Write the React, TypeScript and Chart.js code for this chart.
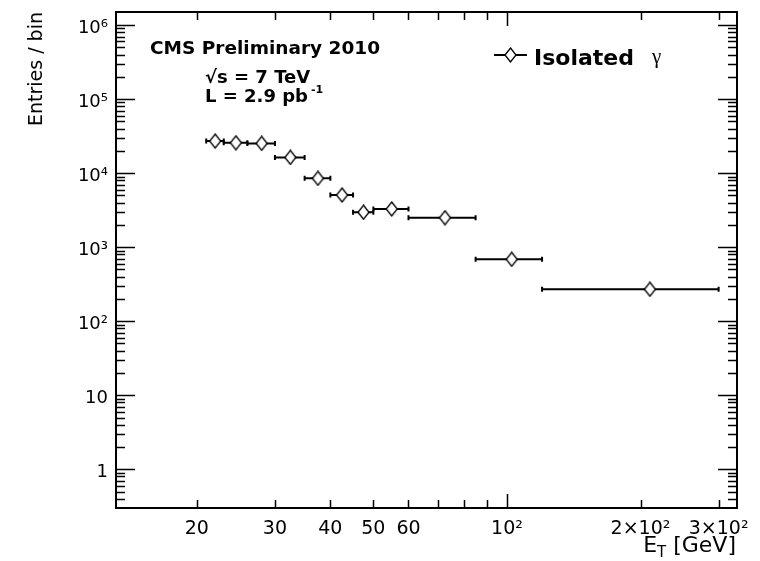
import React, { useEffect, useRef } from "react";
import { Chart, registerables } from "chart.js";

Chart.register(...registerables);

// ---- data ----
const binLow = [21, 23, 26, 30, 35, 40, 45, 50, 60, 85, 120];
const binHigh = [23, 26, 30, 35, 40, 45, 50, 60, 85, 120, 300];
const binCenters = [22, 24.5, 28, 32.5, 37.5, 42.5, 47.5, 55, 72.5, 102.5, 210];
const entries = [27100, 25700, 25200, 16300, 8500, 5060, 2960, 3280, 2500, 685, 270];

const xTickValues = [20, 30, 40, 50, 60, 100, 200, 300];
const xTickLabels = ["20", "30", "40", "50", "60", "10²", "2×10²", "3×10²"];
const xMinorTicks = [20, 30, 40, 50, 60, 70, 80, 90, 200, 300];
const xMajorTicks = [100];
const yTickValues = [1, 10, 100, 1000, 10000, 100000, 1000000];
const yTickLabels = ["1", "10", "10²", "10³", "10⁴", "10⁵", "10⁶"];

const X_MIN = 13.15;
const X_MAX = 330;
const Y_MIN = 0.3;
const Y_MAX = 1.5e6;

const FONT = "DejaVu Sans";

function makeDiamond(w: number, h: number): HTMLCanvasElement {
  const c = document.createElement("canvas");
  c.width = w;
  c.height = h;
  const g = c.getContext("2d")!;
  g.fillStyle = "#ffffff";
  g.strokeStyle = "#000000";
  g.lineWidth = 1.3;
  g.beginPath();
  g.moveTo(w / 2, 1);
  g.lineTo(w - 1, h / 2);
  g.lineTo(w / 2, h - 1);
  g.lineTo(1, h / 2);
  g.closePath();
  g.fill();
  g.stroke();
  return c;
}

const rootStyle = {
  id: "rootStyle",
  beforeDatasetsDraw(chart: any) {
    const ctx = chart.ctx as CanvasRenderingContext2D;
    const xs = chart.scales.x;
    const ys = chart.scales.y;
    ctx.save();
    ctx.strokeStyle = "#000";
    ctx.lineWidth = 2;
    binLow.forEach((lo, i) => {
      const x1 = xs.getPixelForValue(lo);
      const x2 = xs.getPixelForValue(binHigh[i]);
      const y = ys.getPixelForValue(entries[i]);
      ctx.beginPath();
      ctx.moveTo(x1, y);
      ctx.lineTo(x2, y);
      ctx.moveTo(x1, y - 2.5);
      ctx.lineTo(x1, y + 2.5);
      ctx.moveTo(x2, y - 2.5);
      ctx.lineTo(x2, y + 2.5);
      ctx.stroke();
    });
    ctx.restore();
  },
  afterDraw(chart: any) {
    const ctx = chart.ctx as CanvasRenderingContext2D;
    const ca = chart.chartArea;
    const xs = chart.scales.x;
    const ys = chart.scales.y;
    ctx.save();
    ctx.strokeStyle = "#000";
    // ticks
    ctx.lineWidth = 1.5;
    ctx.beginPath();
    for (let d = -1; d <= 6; d++) {
      for (let k = 1; k <= 9; k++) {
        const v = k * Math.pow(10, d);
        if (v < Y_MIN * 1.01 || v > Y_MAX) continue;
        const py = Math.round(ys.getPixelForValue(v)) + 0.5;
        const len = k === 1 ? 19 : 9;
        ctx.moveTo(ca.left, py);
        ctx.lineTo(ca.left + len, py);
        ctx.moveTo(ca.right, py);
        ctx.lineTo(ca.right - len, py);
      }
    }
    const xt = (vals: number[], len: number) => {
      vals.forEach((v) => {
        const px = Math.round(xs.getPixelForValue(v)) + 0.5;
        ctx.moveTo(px, ca.bottom);
        ctx.lineTo(px, ca.bottom - len);
        ctx.moveTo(px, ca.top);
        ctx.lineTo(px, ca.top + len);
      });
    };
    xt(xMinorTicks, 8);
    xt(xMajorTicks, 14);
    ctx.stroke();
    // frame
    ctx.lineWidth = 2;
    ctx.strokeRect(ca.left, ca.top, ca.right - ca.left, ca.bottom - ca.top);

    // annotations
    ctx.fillStyle = "#000";
    ctx.textAlign = "left";
    ctx.textBaseline = "alphabetic";
    ctx.font = `bold 18.5px "${FONT}"`;
    ctx.fillText("CMS Preliminary 2010", 150, 53.5);
    ctx.font = `bold 18px "${FONT}"`;
    ctx.fillText("√s = 7 TeV", 205, 83);
    ctx.fillText("L = 2.9 pb", 205, 101.5);
    const wL = ctx.measureText("L = 2.9 pb").width;
    ctx.font = `bold 11px "${FONT}"`;
    ctx.fillText("-1", 205 + wL + 3, 93);

    // legend
    ctx.lineWidth = 2;
    ctx.beginPath();
    ctx.moveTo(494, 55);
    ctx.lineTo(527, 55);
    ctx.stroke();
    const dm = makeDiamond(13, 16);
    ctx.drawImage(dm, 510.5 - 6.5, 55 - 8);
    ctx.font = `bold 22px "${FONT}"`;
    ctx.fillText("Isolated", 534, 65);
    ctx.font = `21px "Liberation Serif"`;
    ctx.fillText("γ", 652, 63);

    // x axis title E_T [GeV]
    ctx.font = `22px "${FONT}"`;
    const wE = ctx.measureText("E").width;
    const wRest = ctx.measureText(" [GeV]").width;
    ctx.font = `15px "${FONT}"`;
    const wT = ctx.measureText("T").width;
    const start = 736 - (wE + wT + wRest);
    ctx.font = `22px "${FONT}"`;
    ctx.fillText("E", start, 552);
    ctx.fillText(" [GeV]", start + wE + wT, 552);
    ctx.font = `15px "${FONT}"`;
    ctx.fillText("T", start + wE, 557);
    ctx.restore();
  },
};

export default function App() {
  const ref = useRef<HTMLCanvasElement | null>(null);
  useEffect(() => {
    document.body.style.margin = "0";
    const canvas = ref.current!;
    const diamond = makeDiamond(13, 16);
    const chart = new Chart(canvas, {
      type: "scatter",
      data: {
        datasets: [
          {
            label: "Isolated γ",
            data: binCenters.map((x, i) => ({ x, y: entries[i] })),
            pointStyle: diamond as any,
            pointRadius: 7,
            borderColor: "#000",
            backgroundColor: "#fff",
          },
        ],
      },
      options: {
        animation: false,
        responsive: false,
        devicePixelRatio: 1,
        layout: { padding: { top: 12, right: 23, left: 0, bottom: 0 } },
        plugins: { legend: { display: false }, tooltip: { enabled: false } },
        scales: {
          x: {
            type: "logarithmic",
            min: X_MIN,
            max: X_MAX,
            grid: { display: false, drawTicks: false },
            border: { display: false },
            afterBuildTicks: (s: any) => {
              s.ticks = xTickValues.map((v) => ({ value: v }));
            },
            afterFit: (s: any) => {
              s.height = 53;
              s.paddingLeft = 0;
              s.paddingRight = 0;
            },
            ticks: {
              autoSkip: false,
              maxRotation: 0,
              minRotation: 0,
              padding: 10,
              color: "#000",
              font: { family: FONT, size: 19 },
              callback: (v: any) => {
                const i = xTickValues.indexOf(Number(v));
                return i >= 0 ? xTickLabels[i] : "";
              },
            },
          },
          y: {
            type: "logarithmic",
            min: Y_MIN,
            max: Y_MAX,
            grid: { display: false, drawTicks: false },
            border: { display: false },
            afterBuildTicks: (s: any) => {
              s.ticks = yTickValues.map((v) => ({ value: v }));
            },
            afterFit: (s: any) => {
              s.width = 116;
              s.paddingTop = 0;
              s.paddingBottom = 0;
            },
            title: {
              display: true,
              text: "Entries / bin",
              align: "end",
              color: "#000",
              font: { family: FONT, size: 19 },
              padding: { top: 26, bottom: 0 },
            },
            ticks: {
              autoSkip: false,
              padding: 8,
              labelOffset: 3,
              color: "#000",
              font: { family: FONT, size: 18 },
              callback: (v: any) => {
                const i = yTickValues.indexOf(Number(v));
                return i >= 0 ? yTickLabels[i] : "";
              },
            },
          },
        },
      },
      plugins: [rootStyle],
    });
    return () => chart.destroy();
  }, []);
  return (
    <canvas
      ref={ref}
      width={760}
      height={561}
      style={{ display: "block", width: 760, height: 561 }}
    />
  );
}
